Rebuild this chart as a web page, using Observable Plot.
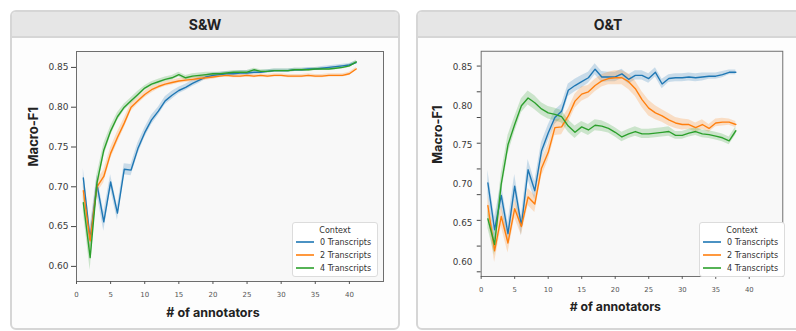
<!DOCTYPE html>
<html>
<head>
<meta charset="utf-8">
<script src="https://cdn.jsdelivr.net/npm/d3@7"></script>
<script src="https://cdn.jsdelivr.net/npm/@observablehq/plot@0.6"></script>
<style>
  html, body { margin: 0; padding: 0; background: #ffffff; width: 796px; height: 331px; overflow: hidden; position: relative; font-family: "DejaVu Sans", sans-serif; }
  .card { position: absolute; top: 10px; height: 316px; border: 2px solid #d6d6d6; border-radius: 6px; background: #fdfdfd; overflow: hidden; box-sizing: content-box; }
  .card .hdr { position: absolute; left: 0; right: 0; top: 0; height: 24px; background: #e6e6e6; border-bottom: 2px solid #d6d6d6; text-align: center; font-family: Inter, "Liberation Sans", sans-serif; font-weight: 700; font-size: 14px; line-height: 25px; color: #222; }
  .plotbox { position: absolute; top: 40px; }
  .legend { position: absolute; top: 222px; width: 84px; height: 53px; background: #ffffff; border: 1px solid #dcdcdc; border-radius: 3px; font-family: "DejaVu Sans", sans-serif; font-size: 8px; color: #333; }
  .legend .ttl { position: absolute; left: 0; right: 0; top: 3px; text-align: center; }
  .legend .row { position: absolute; left: 3px; height: 10px; line-height: 10px; white-space: nowrap; }
  .legend svg { vertical-align: middle; margin-right: 6px; position: relative; top: -1px; }
</style>
</head>
<body>
<div class="card" style="left:10px; width:386px;"><div class="hdr">S&amp;W</div></div>
<div class="card" style="left:416px; width:400px;"><div class="hdr" style="width:380px;">O&amp;T</div></div>
<div id="p1" class="plotbox" style="left:12px;"></div>
<div id="p2" class="plotbox" style="left:418px;"></div>
<div id="lg1" class="legend" style="left:292px;"></div>
<div id="lg2" class="legend" style="left:699px;"></div>
<script>
// ---------- data ----------
const seriesNames = ["0 Transcripts", "2 Transcripts", "4 Transcripts"];
const seriesColors = ["#1f77b4", "#ff7f0e", "#2ca02c"];
const legendTitle = "Context";
const panelTitles = ["S&W", "O&T"];
const xLabel = "# of annotators";
const yLabel = "Macro-F1";
const xTicks = [0, 5, 10, 15, 20, 25, 30, 35, 40];
const yTicks = [0.60, 0.65, 0.70, 0.75, 0.80, 0.85];
const otTickMarks = [0.851, 0.818, 0.785, 0.752, 0.719, 0.686, 0.653, 0.620, 0.587];

// S&W: annotators 1..41
const swAnnotators = d3.range(1, 42);
const swBlue = [0.711,0.634,0.703,0.656,0.706,0.667,0.722,0.721,0.748,0.768,
  0.784,0.795,0.808,0.815,0.821,0.825,0.830,0.834,0.838,0.840,
  0.841,0.842,0.842,0.843,0.843,0.844,0.844,0.845,0.846,0.846,
  0.846,0.847,0.847,0.848,0.848,0.849,0.850,0.851,0.852,0.853,0.856];
const swOrange = [0.695,0.632,0.700,0.713,0.742,0.762,0.780,0.800,0.808,0.816,
  0.822,0.826,0.829,0.831,0.833,0.834,0.835,0.836,0.837,0.838,
  0.839,0.840,0.839,0.839,0.840,0.839,0.840,0.839,0.840,0.840,
  0.839,0.839,0.839,0.840,0.839,0.839,0.840,0.840,0.840,0.842,0.848];
const swGreen = [0.680,0.611,0.705,0.746,0.770,0.788,0.800,0.808,0.816,0.824,
  0.829,0.832,0.835,0.837,0.841,0.837,0.839,0.840,0.841,0.842,
  0.842,0.843,0.844,0.844,0.844,0.847,0.845,0.845,0.846,0.846,
  0.846,0.847,0.847,0.847,0.848,0.848,0.848,0.849,0.850,0.852,0.857];
const swBlueCi = [0.012,0.015,0.012,0.012,0.009,0.009,0.007,0.007,0.007,0.006,
  0.006,0.005,0.005,0.005,0.004,0.004,0.004,0.004,0.003,0.003,
  0.003,0.003,0.003,0.003,0.003,0.003,0.002,0.002,0.002,0.002,
  0.002,0.002,0.002,0.002,0.002,0.002,0.002,0.002,0.002,0.002,0.002];
const swOrangeCi = [0.010,0.013,0.008,0.008,0.007,0.007,0.006,0.005,0.004,0.004,
  0.004,0.003,0.003,0.003,0.003,0.003,0.003,0.003,0.003,0.003,
  0.002,0.002,0.002,0.002,0.002,0.002,0.002,0.002,0.002,0.002,
  0.002,0.002,0.002,0.002,0.002,0.002,0.002,0.002,0.002,0.002,0.002];
const swGreenCi = [0.012,0.016,0.010,0.008,0.006,0.005,0.004,0.004,0.004,0.003,
  0.003,0.003,0.003,0.003,0.003,0.003,0.003,0.003,0.003,0.002,
  0.002,0.002,0.002,0.002,0.002,0.002,0.002,0.002,0.002,0.002,
  0.002,0.002,0.002,0.002,0.002,0.002,0.002,0.002,0.002,0.002,0.002];

// O&T: annotators 1..38
const otAnnotators = d3.range(1, 39);
const otBlue = [0.701,0.641,0.685,0.636,0.697,0.646,0.718,0.691,0.742,0.765,
  0.785,0.793,0.820,0.826,0.831,0.836,0.847,0.837,0.837,0.837,
  0.841,0.834,0.839,0.839,0.835,0.843,0.828,0.835,0.836,0.836,
  0.837,0.836,0.837,0.838,0.838,0.840,0.843,0.843];
const otOrange = [0.672,0.614,0.658,0.624,0.668,0.645,0.683,0.674,0.720,0.740,
  0.772,0.773,0.787,0.806,0.815,0.818,0.826,0.832,0.835,0.836,
  0.836,0.831,0.822,0.808,0.797,0.791,0.787,0.782,0.778,0.776,
  0.776,0.772,0.776,0.771,0.778,0.779,0.779,0.776];
const otGreen = [0.655,0.622,0.700,0.750,0.776,0.800,0.810,0.804,0.796,0.791,
  0.789,0.786,0.774,0.766,0.773,0.769,0.775,0.774,0.771,0.766,
  0.760,0.764,0.767,0.764,0.764,0.765,0.766,0.767,0.762,0.762,
  0.765,0.767,0.764,0.763,0.761,0.759,0.755,0.768];
const otBlueCi = [0.016,0.016,0.015,0.014,0.015,0.013,0.013,0.012,0.011,0.010,
  0.009,0.009,0.008,0.008,0.008,0.007,0.007,0.007,0.006,0.006,
  0.006,0.006,0.006,0.006,0.006,0.006,0.006,0.005,0.005,0.005,
  0.005,0.005,0.005,0.004,0.004,0.004,0.003,0.003];
const otOrangeCi = [0.013,0.015,0.013,0.013,0.012,0.011,0.011,0.011,0.011,0.010,
  0.010,0.010,0.009,0.009,0.009,0.008,0.008,0.008,0.008,0.009,
  0.009,0.010,0.010,0.010,0.010,0.009,0.008,0.008,0.007,0.007,
  0.006,0.006,0.006,0.005,0.005,0.005,0.004,0.004];
const otGreenCi = [0.012,0.014,0.013,0.012,0.010,0.009,0.009,0.009,0.008,0.008,
  0.008,0.008,0.008,0.008,0.007,0.007,0.007,0.007,0.006,0.006,
  0.006,0.006,0.006,0.006,0.006,0.006,0.006,0.006,0.005,0.005,
  0.005,0.005,0.005,0.005,0.005,0.005,0.005,0.005];

// ---------- build ----------
function rowsFor(xs, vals, cis) {
  const out = [];
  vals.forEach((arr, si) => {
    arr.forEach((v, i) => out.push({x: xs[i], y: v, lo: v - cis[si][i], hi: v + cis[si][i], s: seriesNames[si]}));
  });
  return out;
}

function panel(rows, opts) {
  return Plot.plot({
    width: 386, height: 288,
    marginLeft: 64, marginRight: opts.mr, marginTop: 11, marginBottom: 47,
    style: {background: "transparent", color: "#3a3a3a", fontFamily: "DejaVu Sans, sans-serif", overflow: "visible"},
    x: {domain: [0, 45]},
    y: {domain: [0.581, 0.870]},
    color: {domain: seriesNames, range: seriesColors},
    marks: [
      Plot.frame({fill: "#f8f8f8", stroke: null}),
      Plot.areaY(rows, {x: "x", y1: "lo", y2: "hi", z: "s", fill: "s", fillOpacity: 0.22, curve: "linear"}),
      Plot.lineY(rows, {x: "x", y: "y", z: "s", stroke: "s", strokeWidth: 1.4}),
      Plot.frame({stroke: "#6e6e6e", strokeWidth: 1}),
      Plot.axisX(xTicks, {tickSize: 3, tickPadding: 8, fontSize: 7, stroke: "#555", fill: "#555", label: null}),
      ...(opts.oddTicks
        ? [Plot.axisY(yTicks, {tickSize: 0, tickPadding: 9, fontSize: 9, tickFormat: d3.format(".2f"), label: null}),
           Plot.axisY(otTickMarks, {tickSize: 4, tickFormat: () => "", label: null, stroke: "#444"})]
        : [Plot.axisY(yTicks, {tickSize: 5, tickPadding: 3, fontSize: 9, tickFormat: d3.format(".2f"), label: null, stroke: "#444"})]),
      Plot.text([yLabel], {frameAnchor: "left", dx: opts.ylDx, rotate: -90, text: d => d, fontSize: 13, fontWeight: "bold", fill: "#222", fontFamily: "Inter, Liberation Sans, sans-serif"}),
      Plot.text([xLabel], {frameAnchor: "bottom", dx: -17, dy: 31, lineAnchor: "middle", text: d => d, fontSize: 12.5, fontWeight: "bold", fill: "#222", fontFamily: "Inter, Liberation Sans, sans-serif"})
    ]
  });
}

const swRows = rowsFor(swAnnotators, [swBlue, swOrange, swGreen], [swBlueCi, swOrangeCi, swGreenCi]);
const otRows = rowsFor(otAnnotators, [otBlue, otOrange, otGreen], [otBlueCi, otOrangeCi, otGreenCi]);

document.getElementById("p1").appendChild(panel(swRows, {mr: 15, ylDx: -43, oddTicks: false}));
document.getElementById("p2").appendChild(panel(otRows, {mr: 14, ylDx: -44, oddTicks: true}));

function legend(el) {
  let html = `<div class="ttl">${legendTitle}</div>`;
  seriesNames.forEach((n, i) => {
    html += `<div class="row" style="top:${15 + i * 13}px"><svg width="18" height="4"><line x1="0" x2="18" y1="2" y2="2" stroke="${seriesColors[i]}" stroke-width="1.6"/></svg>${n}</div>`;
  });
  el.innerHTML = html;
}
legend(document.getElementById("lg1"));
legend(document.getElementById("lg2"));
</script>
</body>
</html>
